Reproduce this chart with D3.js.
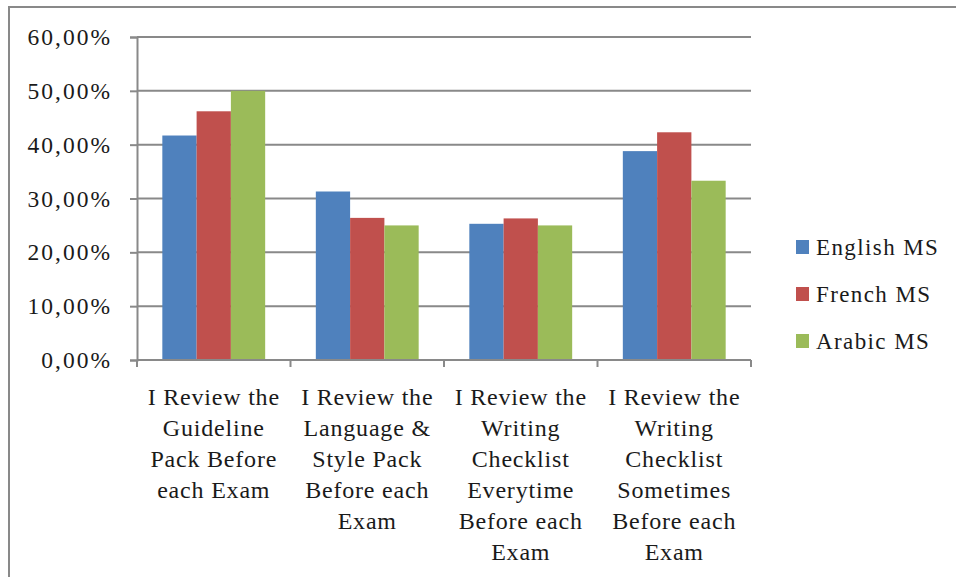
<!DOCTYPE html>
<html><head><meta charset="utf-8">
<script src="https://cdn.jsdelivr.net/npm/d3@7"></script>
<style>body{margin:0;background:#fff}svg{display:block}text{font-family:"Liberation Serif",serif;fill:#1a1a1a}</style>
</head><body>
<svg id="c" width="956" height="577"></svg>
<script>
const categories = [
  ["I Review the","Guideline","Pack Before","each Exam"],
  ["I Review the","Language &","Style Pack","Before each","Exam"],
  ["I Review the","Writing","Checklist","Everytime","Before each","Exam"],
  ["I Review the","Writing","Checklist","Sometimes","Before each","Exam"]
];
const seriesNames = ["English MS","French MS","Arabic MS"];
const englishMS = [41.7, 31.3, 25.3, 38.8];
const frenchMS  = [46.2, 26.4, 26.3, 42.3];
const arabicMS  = [50.0, 25.0, 25.0, 33.3];
const yTicks = [0,10,20,30,40,50,60];
const colors = ["#4F81BD","#C0504D","#9BBB59"];

(function(){
const series = [englishMS, frenchMS, arabicMS];
const svg = d3.select("#c");
const pl = 137, pr = 751, pt = 37, pb = 360;
const gridCol = "#898989";

svg.append("rect").attr("x",9).attr("y",7).attr("width",1000).attr("height",700)
  .attr("fill","none").attr("stroke",gridCol).attr("stroke-width",2);

const y = d3.scaleLinear().domain([0,60]).range([pb, pt]);
const catKeys = categories.map((c,i)=>i);
const x = d3.scaleBand().domain(catKeys).range([pl,pr]).paddingInner(0.33).paddingOuter(0.165);
const xs = d3.scaleBand().domain(d3.range(series.length)).range([0, x.bandwidth()]);

svg.append("g").selectAll("line").data(yTicks.filter(t=>t>0)).join("line")
  .attr("x1",pl).attr("x2",pr).attr("y1",d=>y(d)).attr("y2",d=>y(d))
  .attr("stroke",gridCol).attr("stroke-width",2);

const g = svg.append("g");
catKeys.forEach(ci=>{
  series.forEach((s,si)=>{
    g.append("rect").attr("x",x(ci)+xs(si)).attr("width",xs.bandwidth())
      .attr("y",y(s[ci])).attr("height",y(0)-y(s[ci])).attr("fill",colors[si]);
  });
});

const yAxis = d3.axisLeft(y).tickValues(yTicks).tickSize(7).tickPadding(18)
  .tickFormat(d=>d3.format(".2f")(d).replace(".",",")+"%");
const ya = svg.append("g").attr("transform",`translate(${pl},0)`).call(yAxis);
ya.select(".domain").attr("stroke",gridCol).attr("stroke-width",2);
ya.selectAll(".tick line").attr("stroke",gridCol).attr("stroke-width",2);
ya.selectAll(".tick text").attr("font-size",23.5).attr("letter-spacing","2px")
  .style("font-family","'Liberation Serif',serif").attr("fill","#1a1a1a");

const xa = svg.append("g").attr("transform",`translate(0,${pb})`);
xa.append("line").attr("x1",pl).attr("x2",pr).attr("stroke",gridCol).attr("stroke-width",2);
const bounds = catKeys.map(k=>x(k)-x.step()*x.paddingInner()/2).concat([pr]);
bounds[0]=pl;
xa.selectAll("line.tk").data(bounds).join("line").attr("class","tk")
  .attr("x1",d=>d).attr("x2",d=>d).attr("y1",0).attr("y2",7).attr("stroke",gridCol).attr("stroke-width",2);
catKeys.forEach(ci=>{
  const t = xa.append("text").attr("text-anchor","middle").attr("font-size",24)
    .attr("letter-spacing","0.8px")
    .attr("x",x(ci)+x.bandwidth()/2).attr("y",45);
  categories[ci].forEach((ln,li)=>{
    t.append("tspan").attr("x",x(ci)+x.bandwidth()/2).attr("dy",li===0?0:31).text(ln);
  });
});

const lg = svg.append("g");
seriesNames.forEach((n,i)=>{
  const cy = 247 + i*47;
  lg.append("rect").attr("x",796).attr("y",cy-7).attr("width",13).attr("height",14).attr("fill",colors[i]);
  lg.append("text").attr("x",816).attr("y",cy+8).attr("font-size",23).attr("letter-spacing","1.4px").text(n);
});
})();
</script>
</body></html>
